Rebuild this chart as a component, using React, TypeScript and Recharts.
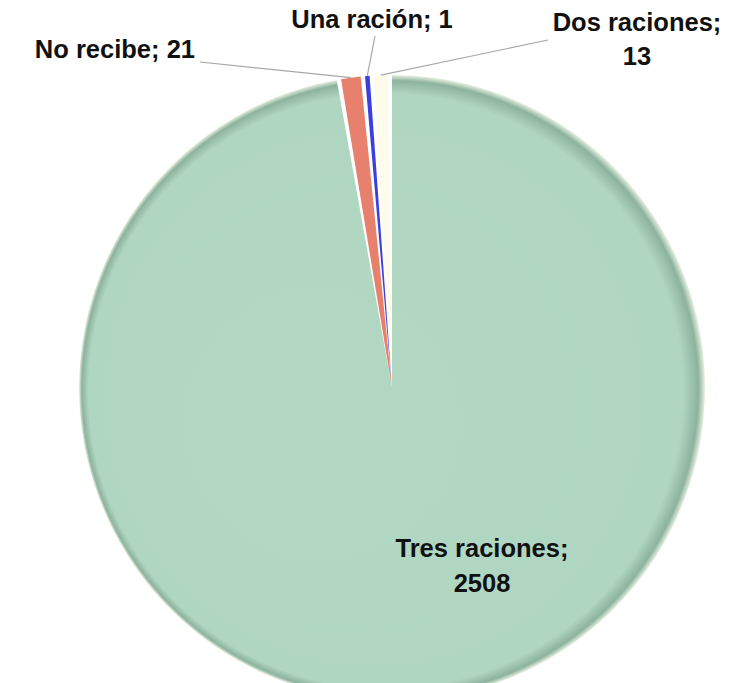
import React from 'react';
import { PieChart, Pie, Cell } from 'recharts';

const categories = ['Tres raciones', 'No recibe', 'Una ración', 'Dos raciones'];
const values = [2508, 21, 1, 13];
const colors = ['url(#greenFill)', '#e8806e', '#3b3fe0', '#fffbea'];

// where each label sits, relative to the chart box
const labelSpots = [
  { x: 482, y: [557, 592], anchor: 'middle' },
  { x: 195, y: [58], anchor: 'end', line: [200, 62] },
  { x: 372, y: [28], anchor: 'middle', line: [375, 36] },
  { x: 637, y: [31, 65], anchor: 'middle', line: [548, 40] },
];

const data = categories.map((name, i) => ({ name, value: values[i] }));

const RAD = Math.PI / 180;

const renderLabel = (props: any) => {
  const { cx, cy, midAngle, outerRadius, index } = props;
  const spot = labelSpots[index];
  const name = categories[index];
  const val = values[index];
  const lines = spot.y.length > 1 ? [`${name};`, `${val}`] : [`${name}; ${val}`];
  const px = cx + outerRadius * Math.cos(-midAngle * RAD);
  const py = cy + outerRadius * Math.sin(-midAngle * RAD);
  return (
    <g key={`lbl-${index}`}>
      {spot.line && (
        <polyline
          points={`${spot.line[0]},${spot.line[1]} ${px},${py}`}
          fill="none"
          stroke="#a8a8a8"
          strokeWidth={1.2}
        />
      )}
      {lines.map((t, i) => (
        <text
          key={i}
          x={spot.x}
          y={spot.y[i]}
          textAnchor={spot.anchor as any}
          fontFamily="'Liberation Sans', Arial, sans-serif"
          fontWeight="bold"
          fontSize={25.5}
          fill="#111"
        >
          {t}
        </text>
      ))}
    </g>
  );
};

export default function App() {
  return (
    <div style={{ position: 'absolute', left: 0, top: 0, background: '#fff' }}>
      <PieChart width={750} height={683}>
        <defs>
          <radialGradient id="greenFill" cx="50%" cy="50%" r="50%" fx="30%" fy="60%">
            <stop offset="0%" stopColor="#b2d8c4" />
            <stop offset="95%" stopColor="#afd6c1" />
            <stop offset="98.5%" stopColor="#8db39f" />
            <stop offset="100%" stopColor="#e8f0e0" />
          </radialGradient>
        </defs>
        <Pie
          data={data}
          dataKey="value"
          nameKey="name"
          cx={387}
          cy={383}
          outerRadius={313}
          startAngle={90}
          endAngle={-270}
          paddingAngle={0.8}
          minAngle={0.7}
          stroke="none"
          label={renderLabel}
          labelLine={false}
          isAnimationActive={false}
        >
          {data.map((d, i) => (
            <Cell key={d.name} fill={colors[i]} />
          ))}
        </Pie>
      </PieChart>
    </div>
  );
}
